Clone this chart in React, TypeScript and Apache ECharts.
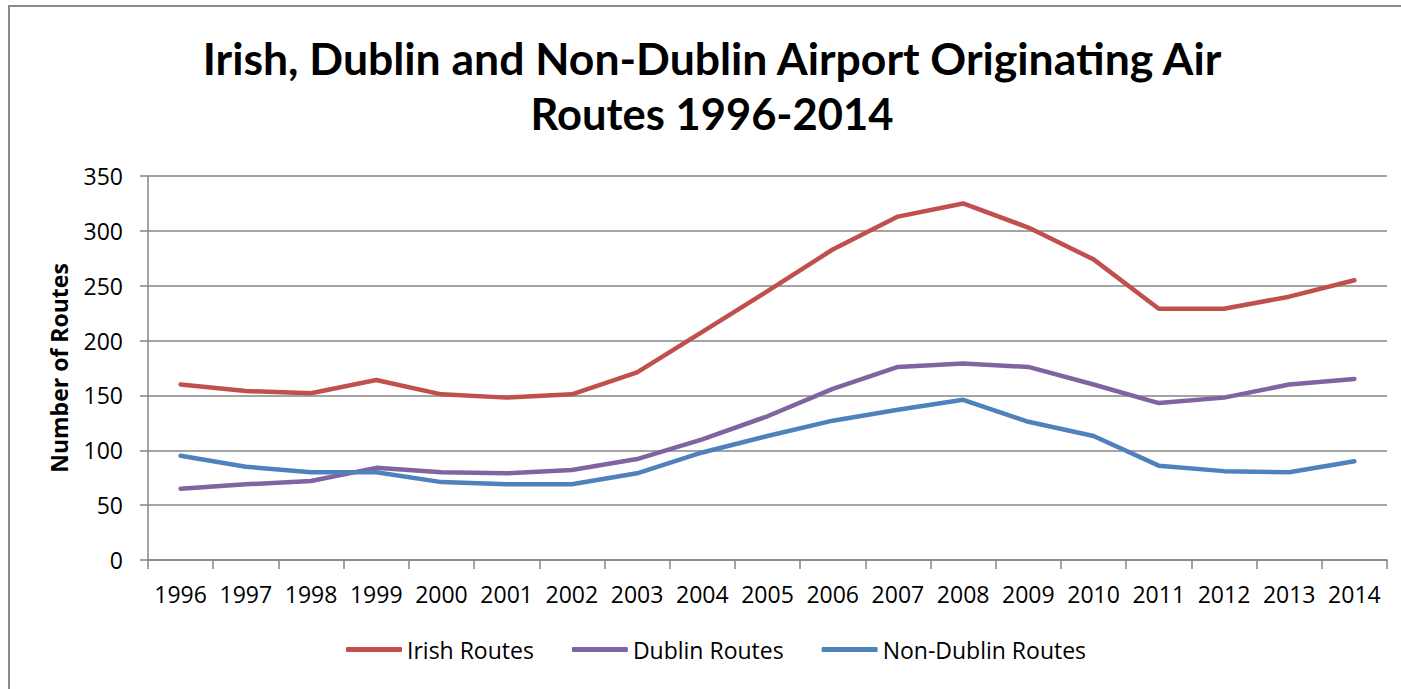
import React, { useEffect, useRef } from "react";
import * as echarts from "echarts";

const years = ["1996","1997","1998","1999","2000","2001","2002","2003","2004","2005","2006","2007","2008","2009","2010","2011","2012","2013","2014"];
const irishRoutes = [160,154,152,164,151,148,151,171,208,245,283,313,325,303,274,229,229,240,255];
const dublinRoutes = [65,69,72,84,80,79,82,92,110,131,156,176,179,176,160,143,148,160,165];
const nonDublinRoutes = [95,85,80,80,71,69,69,79,98,113,127,137,146,126,113,86,81,80,90];
const seriesNames = ["Irish Routes", "Dublin Routes", "Non-Dublin Routes"];
const seriesColors = ["#C0504D", "#8064A2", "#4F81BD"];
const titleLines = ["Irish, Dublin and Non-Dublin Airport Originating Air", "Routes 1996-2014"];

const FONT = "'Open Sans', sans-serif";

export default function App() {
  const ref = useRef<HTMLDivElement>(null);
  useEffect(() => {
    if (!ref.current) return;
    const chart = echarts.init(ref.current, undefined, { renderer: "svg" });
    const data = [irishRoutes, dublinRoutes, nonDublinRoutes];
    chart.setOption({
      animation: false,
      backgroundColor: "#ffffff",
      graphic: [
        {
          type: "rect",
          shape: { x: 9, y: 6, width: 1500, height: 800 },
          style: { fill: "none", stroke: "#8a8a8a", lineWidth: 2 },
          silent: true,
        },
        {
          type: "text",
          x: 712,
          y: 57,
          style: {
            text: titleLines[0],
            textAlign: "center",
            textVerticalAlign: "middle",
            font: `bold 44.5px 'Lato', sans-serif`,
            fill: "#000",
          },
        },
        {
          type: "text",
          x: 712,
          y: 113,
          style: {
            text: titleLines[1],
            textAlign: "center",
            textVerticalAlign: "middle",
            font: `bold 43.5px 'Lato', sans-serif`,
            fill: "#000",
          },
        },
      ],
      grid: { left: 148, right: 14, top: 176, bottom: 129, containLabel: false },
      legend: {
        data: seriesNames,
        left: 341,
        top: 633,
        icon: "roundRect",
        itemWidth: 56,
        itemHeight: 5,
        itemGap: 38,
        textStyle: { fontFamily: FONT, fontSize: 23, color: "#000" },
      },
      xAxis: {
        type: "category",
        data: years,
        boundaryGap: true,
        axisLine: { show: true, lineStyle: { color: "#868686", width: 1.5 } },
        axisTick: { show: true, length: 9, alignWithLabel: false, lineStyle: { color: "#868686", width: 1.5 } },
        axisLabel: { fontFamily: FONT, fontSize: 23, color: "#000", margin: 22, interval: 0 },
        splitLine: { show: false },
      },
      yAxis: {
        type: "value",
        min: 0,
        max: 350,
        interval: 50,
        name: "Number of Routes",
        nameLocation: "middle",
        nameGap: 78,
        nameTextStyle: { fontFamily: FONT, fontSize: 23, fontWeight: "bold", color: "#000" },
        axisLine: { show: true, lineStyle: { color: "#868686", width: 1.5 } },
        axisTick: { show: true, length: 8, lineStyle: { color: "#868686", width: 1.5 } },
        axisLabel: { fontFamily: FONT, fontSize: 23, color: "#000", margin: 25 },
        splitLine: { show: true, lineStyle: { color: "#868686", width: 1.5 } },
      },
      series: seriesNames.map((name, i) => ({
        name,
        type: "line",
        data: data[i],
        showSymbol: false,
        symbol: "none",
        smooth: false,
        color: seriesColors[i],
        lineStyle: { color: seriesColors[i], width: 4.5, cap: "round", join: "round" },
      })),
    });
    return () => chart.dispose();
  }, []);
  return (
    <div
      ref={ref}
      style={{ position: "absolute", left: 0, top: 0, width: 1401, height: 689 }}
    />
  );
}
